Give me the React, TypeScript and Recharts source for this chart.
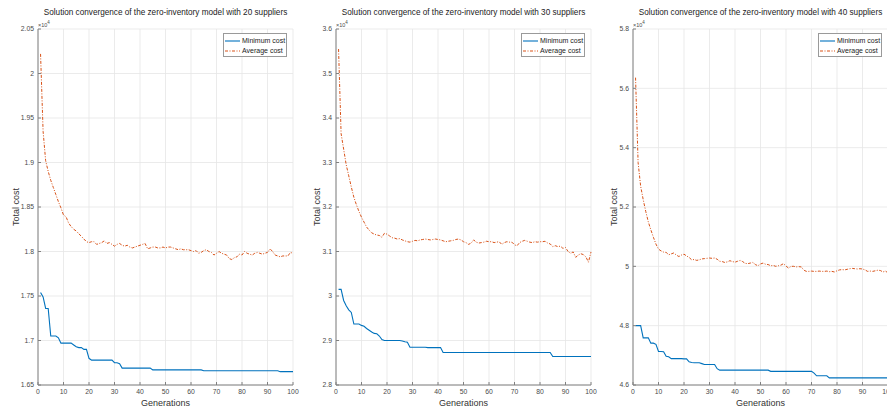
import React from "react";
import { LineChart, Line, XAxis, YAxis, CartesianGrid, Legend } from "recharts";

// generation index (x categories)
const generations = Array.from({ length: 100 }, (_, i) => i + 1);
const xTicks = [0, 10, 20, 30, 40, 50, 60, 70, 80, 90, 100];

// 20 suppliers
const min20 = [
  17540, 17490, 17360, 17360, 17050, 17050, 17050, 17030, 16970, 16970,
  16970, 16970, 16970, 16950, 16930, 16920, 16920, 16900, 16900, 16800,
  16780, 16780, 16780, 16780, 16780, 16780, 16780, 16780, 16780, 16750,
  16750, 16740, 16690, 16690, 16690, 16690, 16690, 16690, 16690, 16690,
  16690, 16690, 16690, 16690, 16670, 16670, 16670, 16670, 16670, 16670,
  16670, 16670, 16670, 16670, 16670, 16670, 16670, 16670, 16670, 16670,
  16670, 16670, 16670, 16670, 16660, 16660, 16660, 16660, 16660, 16660,
  16660, 16660, 16660, 16660, 16660, 16660, 16660, 16660, 16660, 16660,
  16660, 16660, 16660, 16660, 16660, 16660, 16660, 16660, 16660, 16660,
  16660, 16660, 16660, 16660, 16650, 16650, 16650, 16650, 16650, 16650,
];
const avg20 = [
  20220, 19350, 19020, 18900, 18800, 18720, 18640, 18560, 18490, 18410,
  18390, 18320, 18280, 18250, 18230, 18200, 18170, 18140, 18110, 18100,
  18110, 18110, 18080, 18090, 18100, 18120, 18090, 18100, 18080, 18060,
  18080, 18090, 18070, 18060, 18070, 18050, 18040, 18050, 18060, 18070,
  18080, 18090, 18030, 18040, 18050, 18050, 18040, 18040, 18050, 18040,
  18050, 18050, 18040, 18030, 18020, 18030, 18020, 18020, 18020, 18010,
  18000, 18010, 17980, 17990, 18010, 18020, 18000, 17990, 17960, 17980,
  18000, 17980, 17970, 17960, 17920, 17910, 17930, 17940, 17970, 17960,
  18000, 17980, 17970, 17960, 17980, 17990, 17980, 17970, 17980, 17990,
  18030, 18000, 17960, 17950, 17940, 17950, 17950, 17950, 17990, 17980,
];
const yTicks20 = [16500, 17000, 17500, 18000, 18500, 19000, 19500, 20000, 20500];

// 30 suppliers
const min30 = [
  30150, 30150, 29900, 29780, 29690, 29630, 29370, 29370, 29370, 29340,
  29320, 29270, 29230, 29190, 29160, 29150, 29100, 29020, 29000, 29000,
  29000, 29000, 29000, 29000, 29000, 28990, 28970, 28960, 28850, 28850,
  28850, 28850, 28850, 28850, 28850, 28840, 28840, 28840, 28840, 28840,
  28840, 28730, 28730, 28730, 28730, 28730, 28730, 28730, 28730, 28730,
  28730, 28730, 28730, 28730, 28730, 28730, 28730, 28730, 28730, 28730,
  28730, 28730, 28730, 28730, 28730, 28730, 28730, 28730, 28730, 28730,
  28730, 28730, 28730, 28730, 28730, 28730, 28730, 28730, 28730, 28730,
  28730, 28730, 28730, 28730, 28640, 28640, 28640, 28640, 28640, 28640,
  28640, 28640, 28640, 28640, 28640, 28640, 28640, 28640, 28640, 28640,
];
const avg30 = [
  35550, 33650, 33300, 32950, 32700, 32450, 32220, 32050, 31900, 31770,
  31660, 31550, 31480, 31420, 31390, 31370, 31360, 31320, 31410, 31390,
  31350, 31310, 31300, 31280, 31290, 31260, 31240, 31220, 31210, 31230,
  31250, 31240, 31260, 31270, 31280, 31270, 31260, 31270, 31280, 31270,
  31260, 31240, 31220, 31230, 31240, 31250, 31270, 31280, 31260, 31220,
  31200, 31160, 31190, 31260, 31210, 31190, 31200, 31210, 31230, 31220,
  31220, 31200, 31210, 31220, 31160, 31200, 31220, 31210, 31210, 31150,
  31130, 31200, 31230, 31250, 31230, 31210, 31200, 31220, 31210, 31220,
  31220, 31230, 31190, 31170, 31110, 31130, 31110, 31120, 31070, 31090,
  31000, 30960, 30990, 30870, 30920, 30950, 30930, 30880, 30760, 30990,
];
const yTicks30 = [28000, 29000, 30000, 31000, 32000, 33000, 34000, 35000, 36000];

// 40 suppliers
const min40 = [
  48000, 48000, 48000, 47590, 47590, 47590, 47410, 47410, 47370, 47130,
  47130, 47120, 46970, 46950, 46890, 46890, 46890, 46890, 46890, 46880,
  46880, 46780, 46760, 46750, 46750, 46750, 46720, 46690, 46690, 46690,
  46690, 46690, 46550, 46500, 46500, 46500, 46500, 46500, 46500, 46500,
  46500, 46500, 46500, 46500, 46500, 46500, 46500, 46500, 46500, 46500,
  46500, 46500, 46500, 46460, 46460, 46460, 46460, 46460, 46460, 46460,
  46460, 46460, 46460, 46460, 46460, 46460, 46460, 46460, 46460, 46460,
  46400, 46310, 46310, 46310, 46310, 46310, 46240, 46240, 46240, 46240,
  46240, 46240, 46240, 46240, 46240, 46240, 46240, 46240, 46240, 46240,
  46240, 46240, 46240, 46240, 46240, 46240, 46240, 46240, 46240, 46240,
];
const avg40 = [
  56360, 53500, 52700, 52250, 51850, 51500, 51230, 50980, 50750, 50580,
  50520, 50480, 50470, 50390, 50420, 50450, 50380, 50330, 50380, 50410,
  50350, 50300, 50220, 50230, 50200, 50220, 50250, 50260, 50270, 50280,
  50270, 50280, 50240, 50170, 50160, 50130, 50150, 50190, 50160, 50140,
  50170, 50200, 50160, 50100, 50090, 50110, 50130, 50060, 50020, 50080,
  50110, 50070, 50060, 50020, 50030, 50000, 50020, 50040, 50090, 50010,
  49940, 50000, 50000, 49980, 49990, 49980, 49870, 49830, 49830, 49840,
  49830, 49830, 49840, 49830, 49830, 49840, 49820, 49830, 49810, 49850,
  49880, 49890, 49880, 49900, 49920, 49930, 49920, 49910, 49920, 49910,
  49880, 49830, 49840, 49830, 49850, 49870, 49860, 49810, 49840, 49780,
];
const yTicks40 = [46000, 48000, 50000, 52000, 54000, 56000, 58000];

const FONT = '"Liberation Sans", Arial, Helvetica, sans-serif';
const BLUE = "#0072BD";
const ORANGE = "#D95319";
const AXIS = "#808080";
const TEXT = "#4a4a4a";
const GRID = "#e6e6e6";
const DASHDOT = "3 1.5 1 1.5";

const PLOT_W = 255;
const Y_W = 36;
const TOP = 29;

const panels = [
  { suppliers: 20, left: 38, min: min20, avg: avg20, ticks: yTicks20, labelGap: 22 },
  { suppliers: 30, left: 336, min: min30, avg: avg30, ticks: yTicks30, labelGap: 19 },
  { suppliers: 40, left: 633, min: min40, avg: avg40, ticks: yTicks40, labelGap: 19 },
];

const fmtY = (v: number) => String(Number((v / 10000).toFixed(2)));

const LegendBox = () => (
  <div
    style={{
      width: 64,
      height: 24,
      boxSizing: "border-box",
      border: "1px solid #9a9a9a",
      background: "#fff",
      fontFamily: FONT,
      fontSize: 7,
      color: "#222",
      padding: "2px 0 0 1px",
    }}
  >
    {[
      { name: "Minimum cost", color: BLUE, dash: undefined },
      { name: "Average cost", color: ORANGE, dash: DASHDOT },
    ].map((item) => (
      <div key={item.name} style={{ display: "flex", alignItems: "center", height: 10 }}>
        <svg width={15} height={4} style={{ display: "block" }}>
          <line x1={0} x2={15} y1={2} y2={2} stroke={item.color} strokeWidth={1.1} strokeDasharray={item.dash} />
        </svg>
        <span style={{ marginLeft: 2, lineHeight: "10px", whiteSpace: "nowrap" }}>{item.name}</span>
      </div>
    ))}
  </div>
);

const Panel = ({ p }: { p: (typeof panels)[number] }) => {
  const rows = generations.map((g, i) => ({ gen: g, min: p.min[i], avg: p.avg[i] }));
  const domain = [p.ticks[0], p.ticks[p.ticks.length - 1]];
  const chartLeft = p.left - Y_W;
  const tickStyle = { fontSize: 6.8, fill: TEXT, fontFamily: FONT };

  return (
    <div style={{ position: "absolute", left: chartLeft, top: 0, width: 301, height: 412 }}>
      <div
        style={{
          position: "absolute",
          left: Y_W,
          top: 8,
          width: PLOT_W,
          textAlign: "center",
          fontFamily: FONT,
          fontSize: 8.2,
          lineHeight: "10px",
          color: "#222",
          whiteSpace: "nowrap",
          zIndex: 2,
        }}
      >
        Solution convergence of the zero-inventory model with {p.suppliers} suppliers
      </div>
      <div
        style={{
          position: "absolute",
          left: Y_W,
          top: 19,
          fontFamily: FONT,
          fontSize: 5.5,
          lineHeight: "7px",
          color: TEXT,
          zIndex: 2,
        }}
      >
        ×10<sup style={{ fontSize: 4.5, verticalAlign: 3 }}>4</sup>
      </div>
      <LineChart width={301} height={412} data={rows} margin={{ top: TOP, right: 10, bottom: 0, left: 0 }}>
        <CartesianGrid stroke={GRID} strokeWidth={0.8} />
        <XAxis
          dataKey="gen"
          type="number"
          domain={[0, 100]}
          ticks={xTicks}
          height={27}
          tickSize={-3}
          tickMargin={7}
          interval={0}
          stroke={AXIS}
          tick={tickStyle}
          label={{
            content: ({ viewBox }: any) => (
              <text
                x={viewBox.x + viewBox.width / 2}
                y={viewBox.y + 18}
                textAnchor="middle"
                dominantBaseline="central"
                fontSize={9}
                fontFamily={FONT}
                fill="#333"
              >
                Generations
              </text>
            ),
          }}
        />
        <XAxis
          xAxisId="top"
          orientation="top"
          dataKey="gen"
          type="number"
          domain={[0, 100]}
          allowDataOverflow
          ticks={xTicks}
          height={0}
          tickSize={-3}
          tick={false}
          stroke={AXIS}
        />
        <YAxis
          type="number"
          domain={domain}
          ticks={p.ticks}
          width={Y_W}
          tickSize={-3}
          tickMargin={7}
          interval={0}
          stroke={AXIS}
          tick={tickStyle}
          tickFormatter={fmtY}
          label={{
            content: ({ viewBox }: any) => {
              const x = viewBox.x + viewBox.width - p.labelGap;
              const y = viewBox.y + viewBox.height / 2;
              return (
                <text
                  x={x}
                  y={y}
                  transform={`rotate(-90, ${x}, ${y})`}
                  textAnchor="middle"
                  dominantBaseline="central"
                  fontSize={9}
                  fontFamily={FONT}
                  fill="#333"
                >
                  Total cost
                </text>
              );
            },
          }}
        />
        <YAxis
          yAxisId="right"
          orientation="right"
          type="number"
          domain={domain}
          allowDataOverflow
          ticks={p.ticks}
          width={0}
          tickSize={-3}
          tick={false}
          stroke={AXIS}
        />
        <Legend
          layout="vertical"
          align="center"
          verticalAlign="middle"
          content={() => <LegendBox />}
          wrapperStyle={{ top: TOP + 4, left: Y_W + PLOT_W - 6 - 64, width: 64, height: 24 }}
        />
        <Line
          type="linear"
          dataKey="min"
          name="Minimum cost"
          stroke={BLUE}
          strokeWidth={1.1}
          dot={false}
          isAnimationActive={false}
        />
        <Line
          type="linear"
          dataKey="avg"
          name="Average cost"
          stroke={ORANGE}
          strokeWidth={1}
          strokeDasharray={DASHDOT}
          dot={false}
          isAnimationActive={false}
        />
      </LineChart>
    </div>
  );
}

export default function App() {
  return (
    <div
      style={{
        position: "absolute",
        left: 0,
        top: 0,
        width: 887,
        height: 412,
        overflow: "hidden",
        background: "#fff",
      }}
    >
      {panels.map((p) => (
        <Panel key={p.suppliers} p={p} />
      ))}
    </div>
  );
}
